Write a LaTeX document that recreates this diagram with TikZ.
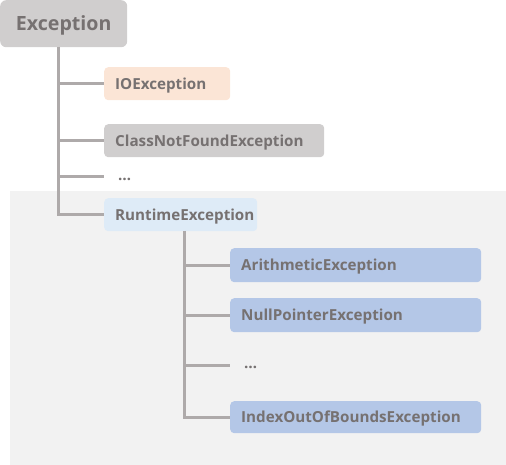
\documentclass[tikz,border=0pt]{standalone}
\usepackage{fontspec}
\setmainfont{Open Sans}
\definecolor{txt}{HTML}{767171}
\definecolor{lin}{HTML}{AEAAAA}
\definecolor{gry}{HTML}{D0CECE}
\definecolor{peach}{HTML}{FBE5D6}
\definecolor{ltblue}{HTML}{DEEBF7}
\definecolor{blu}{HTML}{B4C7E7}
\definecolor{panel}{HTML}{F2F2F2}
\begin{document}
\begin{tikzpicture}[x=1pt, y=-1pt,
  main/.style = {rounded corners=4pt, anchor=north west, minimum height=33pt, inner xsep=11pt, inner ysep=0pt, text height=10.9pt, text depth=0pt, align=left, text=txt, font=\bfseries\fontsize{15.2}{17}\selectfont},
  more/.style = {anchor=west, inner xsep=14pt, inner ysep=0pt, text height=7pt, text depth=0pt, text=txt, font=\bfseries\fontsize{15.2}{17}\selectfont},
  branch/.style = {draw=lin, line width=3pt}]
\useasboundingbox (0,0) rectangle (506,465);
\fill[panel] (10,191) rectangle (506,465);

\node[main, fill=gry, rounded corners=6pt, minimum width=127pt, minimum height=47pt, text height=14pt, align=center, font=\bfseries\fontsize{19.6}{22}\selectfont] (1) at (0,0) {Exception};
\node[main, fill=peach, text width=104pt] (2) at (104,67) {IOException};
\node[main, fill=gry, text width=198pt] (3) at (104,124) {ClassNotFoundException};
\node[more] (4) at (104,177) {\ldots};
\node[main, fill=ltblue, text width=131pt] (5) at (104,198) {RuntimeException};

\node[main, fill=blu, text width=229pt, minimum height=34pt] (6) at (230,248) {ArithmeticException};
\node[main, fill=blu, text width=229pt, minimum height=34pt] (7) at (230,298) {NullPointerException};
\node[more] (8) at (230,365) {\ldots};
\node[main, fill=blu, text width=229pt, minimum height=32pt] (9) at (230,401) {IndexOutOfBoundsException};

% first level
\coordinate (t1) at (58,47);
\draw[branch] (t1) |- (5.west);
\draw[branch] (t1 |- 2.west) -- (2.west);
\draw[branch] (t1 |- 3.west) -- (3.west);
\draw[branch] (t1 |- 4.west) -- (4.west);

% second level
\coordinate (t2) at (184,231);
\draw[branch] (t2) |- (9.west);
\draw[branch] (t2 |- 6.west) -- (6.west);
\draw[branch] (t2 |- 7.west) -- (7.west);
\draw[branch] (t2 |- 8.west) -- (8.west);

\end{tikzpicture}
\end{document}
